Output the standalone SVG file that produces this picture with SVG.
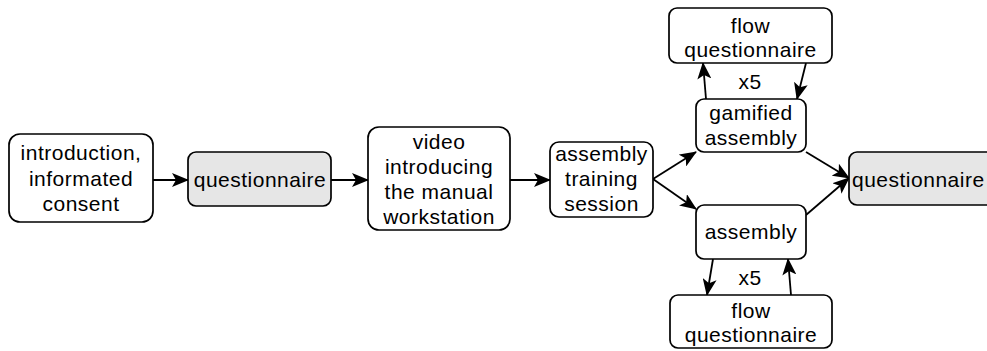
<svg xmlns="http://www.w3.org/2000/svg" width="987" height="351" viewBox="0 0 987 351">
<defs>
<style>
.n{fill:#fff;stroke:#000;stroke-width:1.7}
.g{fill:#e6e6e6}
text{font-family:"Liberation Sans",Arial,sans-serif;font-size:21px;letter-spacing:0.5px;text-anchor:middle;fill:#000}
.c{fill:none;stroke:#000;stroke-width:1.8;marker-end:url(#ah)}
</style>
<marker id="ah" markerUnits="userSpaceOnUse" markerWidth="17" markerHeight="14" viewBox="0 0 17 14" refX="16" refY="7" orient="auto">
<path d="M0,0 L17,7 L0,14 L4,7 Z" fill="#000"/>
</marker>
</defs>
<rect width="987" height="351" fill="#fff"/>
<g id="connectors">
<line class="c" x1="153" y1="180" x2="188" y2="180"/>
<line class="c" x1="331" y1="180" x2="368" y2="180"/>
<line class="c" x1="510" y1="180" x2="550" y2="180"/>
<line class="c" x1="653" y1="179" x2="696" y2="152"/>
<line class="c" x1="653" y1="179" x2="696" y2="209"/>
<line class="c" x1="806" y1="152" x2="849" y2="178"/>
<line class="c" x1="806" y1="215" x2="849" y2="178"/>
<line class="c" x1="706" y1="99" x2="703" y2="63"/>
<line class="c" x1="806" y1="63" x2="797" y2="99"/>
<line class="c" x1="713" y1="259" x2="707" y2="295"/>
<line class="c" x1="791" y1="295" x2="788" y2="259"/>
<text x="750" y="89">x5</text>
<text x="750" y="285">x5</text>
</g>
<g id="intro">
<rect class="n" x="9" y="134" width="144" height="88" rx="11"/>
<text x="81" y="160">introduction,</text>
<text x="81" y="186">informated</text>
<text x="81" y="211">consent</text>
</g>
<g id="q1">
<rect class="n g" x="188" y="152" width="143" height="54" rx="8"/>
<text x="260" y="187">questionnaire</text>
</g>
<g id="video">
<rect class="n" x="368" y="127" width="142" height="103" rx="11"/>
<text x="439" y="149">video</text>
<text x="439" y="174">introducing</text>
<text x="439" y="199">the manual</text>
<text x="439" y="224">workstation</text>
</g>
<g id="training">
<rect class="n" x="550" y="142" width="103" height="75" rx="9"/>
<text x="601.5" y="161">assembly</text>
<text x="601.5" y="186">training</text>
<text x="601.5" y="211">session</text>
</g>
<g id="gamified">
<rect class="n" x="696" y="99" width="110" height="53" rx="8"/>
<text x="751" y="120">gamified</text>
<text x="751" y="145">assembly</text>
</g>
<g id="flow1">
<rect class="n" x="669" y="8" width="163" height="55" rx="8"/>
<text x="750.5" y="33">flow</text>
<text x="750.5" y="57">questionnaire</text>
</g>
<g id="assembly">
<rect class="n" x="696" y="205" width="110" height="54" rx="8"/>
<text x="751" y="239">assembly</text>
</g>
<g id="flow2">
<rect class="n" x="670" y="295" width="162" height="53" rx="8"/>
<text x="751" y="318">flow</text>
<text x="751" y="342">questionnaire</text>
</g>
<g id="q2">
<rect class="n g" x="849" y="152" width="150" height="53" rx="8"/>
<text x="852" y="187" style="text-anchor:start">questionnaire</text>
</g>
</svg>
